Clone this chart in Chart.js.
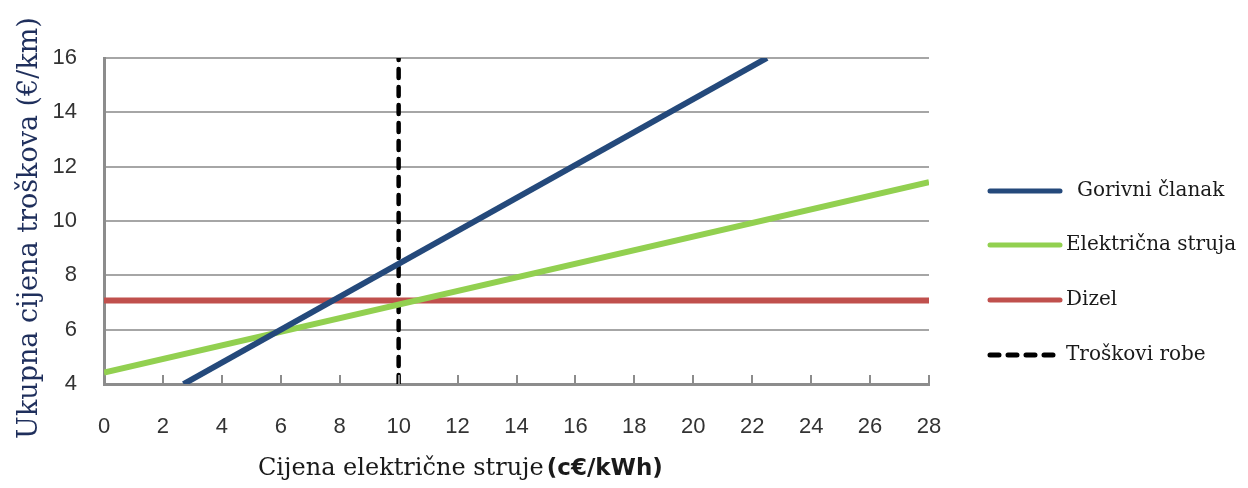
<!DOCTYPE html>
<html>
<head>
<meta charset="utf-8">
<script src="https://cdn.jsdelivr.net/npm/chart.js@4.4.1/dist/chart.umd.min.js"></script>
<style>
  body { margin: 0; background: #fff; }
  canvas { display: block; }
</style>
</head>
<body>
<canvas id="grafikon" width="1248" height="488"></canvas>
<script>
// podaci očitani s grafa
const serije = ['Gorivni članak', 'Električna struja', 'Dizel', 'Troškovi robe'];
const boje = ['#24497b', '#92d050', '#c0504d', '#000000'];

const gorivniClanak = [[2.7, 4], [22.5, 16]];
const elektricnaStruja = [[0, 4.42], [28, 11.43]];
const dizel = [[0, 7.07], [28, 7.07]];
const troskoviRobe = [[10, 4], [10, 16]];

const xMin = 0, xMax = 28, xKorak = 2;
const yMin = 4, yMax = 16, yKorak = 2;

const naslovY = 'Ukupna cijena troškova (€/km)';
const naslovX = 'Cijena električne struje';
const naslovXJedinica = '(c€/kWh)';

const tocke = (niz) => niz.map(([x, y]) => ({ x, y }));

// naslovi osi, kratke oznake na osi x i legenda
const dodaci = {
    id: 'dodaci',
    afterDraw(chart) {
        const ctx = chart.ctx;
        const xs = chart.scales.x;
        const area = chart.chartArea;

        // male crtice prema gore
        ctx.save();
        ctx.strokeStyle = '#8c8c8c';
        ctx.lineWidth = 2;
        for (let v = xMin + xKorak; v <= xMax; v += xKorak) {
            const px = Math.round(xs.getPixelForValue(v));
            ctx.beginPath();
            ctx.moveTo(px, area.bottom);
            ctx.lineTo(px, area.bottom - 9);
            ctx.stroke();
        }
        ctx.restore();

        // naslov osi y
        ctx.save();
        ctx.translate(30, 228);
        ctx.rotate(-Math.PI / 2);
        ctx.fillStyle = '#1f2f5c';
        ctx.font = '27px "DejaVu Serif"';
        ctx.textAlign = 'center';
        ctx.textBaseline = 'middle';
        ctx.fillText(naslovY, 0, 0);
        ctx.restore();

        // naslov osi x
        ctx.save();
        ctx.fillStyle = '#1a1a1a';
        ctx.textBaseline = 'middle';
        ctx.textAlign = 'left';
        ctx.font = '24px "DejaVu Serif"';
        ctx.fillText(naslovX, 258, 469);
        const w = ctx.measureText(naslovX).width;
        ctx.font = 'bold 23px "DejaVu Sans"';
        ctx.fillText(naslovXJedinica, 258 + w + 3, 469);
        ctx.restore();

        // legenda
        const legendaY = [191, 245, 300, 355];
        ctx.save();
        chart.data.datasets.forEach((ds, i) => {
            const y = legendaY[i];
            ctx.beginPath();
            ctx.strokeStyle = ds.borderColor;
            ctx.lineWidth = 5;
            ctx.lineCap = 'round';
            ctx.setLineDash(ds.borderDash || []);
            ctx.moveTo(990, y);
            ctx.lineTo(1060, y);
            ctx.stroke();
            ctx.setLineDash([]);
            ctx.fillStyle = '#1a1a1a';
            ctx.font = '20px "DejaVu Serif"';
            ctx.textAlign = 'left';
            ctx.textBaseline = 'middle';
            ctx.fillText(ds.label, i === 0 ? 1077 : 1066, y);
        });
        ctx.restore();
    }
};

const ctxGrafikon = document.getElementById('grafikon').getContext('2d');
new Chart(ctxGrafikon, {
    type: 'line',
    data: {
        datasets: [
            { label: serije[0], data: tocke(gorivniClanak), borderColor: boje[0], borderWidth: 6 },
            { label: serije[1], data: tocke(elektricnaStruja), borderColor: boje[1], borderWidth: 6 },
            { label: serije[2], data: tocke(dizel), borderColor: boje[2], borderWidth: 6 },
            { label: serije[3], data: tocke(troskoviRobe), borderColor: boje[3], borderWidth: 4.5, borderDash: [9, 9], borderCapStyle: 'round' }
        ]
    },
    options: {
        responsive: false,
        animation: false,
        devicePixelRatio: 1,
        layout: { padding: { top: 58, right: 319, bottom: 0, left: 0 } },
        elements: { point: { radius: 0 }, line: { tension: 0 } },
        plugins: { legend: { display: false }, tooltip: { enabled: false } },
        scales: {
            x: {
                type: 'linear',
                min: xMin, max: xMax,
                ticks: { stepSize: xKorak, padding: 30, color: '#333333', font: { family: 'Liberation Sans', size: 22 } },
                grid: { display: false, drawTicks: false },
                border: { display: true, color: '#8c8c8c', width: 3 },
                afterFit: (s) => { s.height = 104; }
            },
            y: {
                min: yMin, max: yMax,
                ticks: { stepSize: yKorak, padding: 27, color: '#333333', font: { family: 'Liberation Sans', size: 22 } },
                grid: { color: '#a6a6a6', lineWidth: 2, drawTicks: false },
                border: { display: true, color: '#8c8c8c', width: 3 },
                afterFit: (s) => { s.width = 104; }
            }
        }
    },
    plugins: [dodaci]
});
</script>
</body>
</html>
